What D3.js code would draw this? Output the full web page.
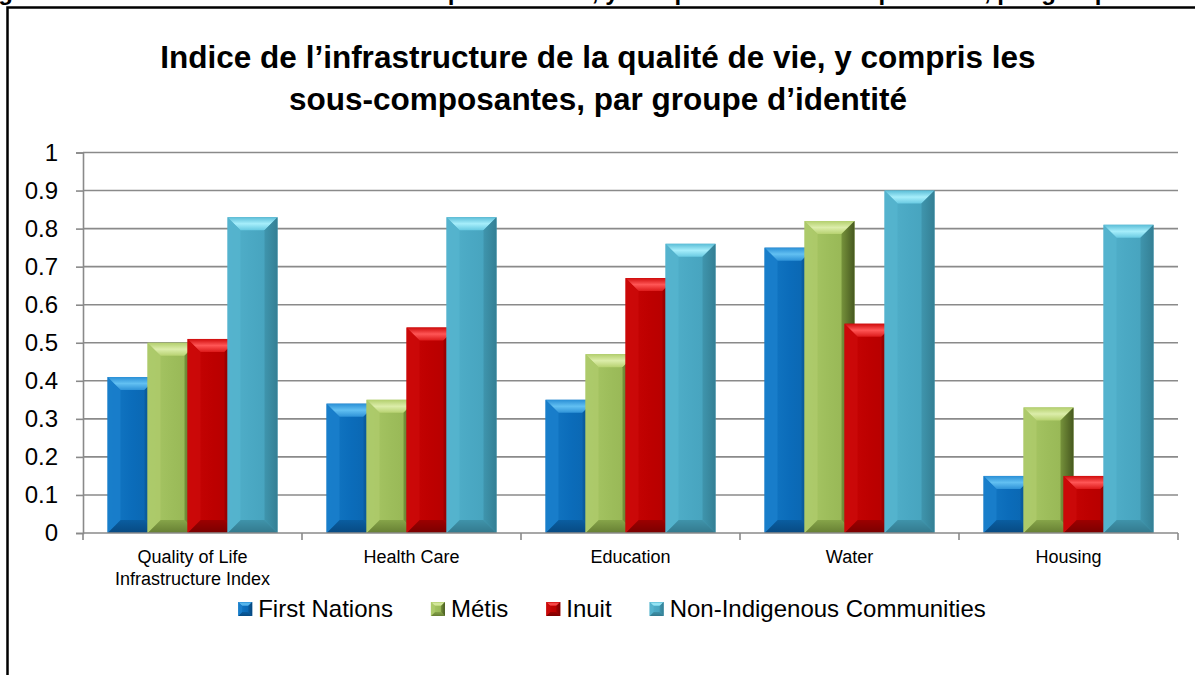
<!DOCTYPE html>
<html>
<head>
<meta charset="utf-8">
<script src="https://cdn.jsdelivr.net/npm/d3@7"></script>
<style>
  html, body { margin: 0; padding: 0; background: #fff; }
  svg { display: block; }
  text { font-family: "Liberation Sans", Arial, sans-serif; fill: #000; }
</style>
</head>
<body>
<svg id="chart" width="1195" height="675"></svg>
<script>
// ---- data ----
const categories = ["Quality of Life|Infrastructure Index", "Health Care", "Education", "Water", "Housing"];
const seriesNames = ["First Nations", "Métis", "Inuit", "Non-Indigenous Communities"];
const firstNations  = [0.41, 0.34, 0.35, 0.75, 0.15];
const metis         = [0.50, 0.35, 0.47, 0.82, 0.33];
const inuit         = [0.51, 0.54, 0.67, 0.55, 0.15];
const nonIndigenous = [0.83, 0.83, 0.76, 0.90, 0.81];
const yTicks = [0, 0.1, 0.2, 0.3, 0.4, 0.5, 0.6, 0.7, 0.8, 0.9, 1];
const titleLines = [
  "Indice de l’infrastructure de la qualité de vie, y compris les",
  "sous-composantes, par groupe d’identité"
];
const captionText = "Figure 3 : Indice de l’infrastructure de la qualité de vie, y compris les sous-composantes, par groupe d’identité";

const seriesValues = [firstNations, metis, inuit, nonIndigenous];

// ---- bevel palettes per series ----
const palettes = [
  { id: "fn",  body: ["#1479c5", "#0b6cba", "#0a64ad"], top: ["#2a8fd6", "#62c0f2", "#2f93d8"], bottom: ["#0a5da0", "#074a82"], left: "#1a80cc", right: ["#0a5fa3", "#06467c"] },
  { id: "me",  body: ["#a9c866", "#9dbd5b", "#95b453"], top: ["#b3cf6d", "#dcedaa", "#b7d271"], bottom: ["#86a449", "#667f33"], left: "#aecb6c", right: ["#76923b", "#46581f"] },
  { id: "in",  body: ["#c80404", "#bd0000", "#b30000"], top: ["#cf0b0b", "#ff5656", "#dc1a1a"], bottom: ["#9c0000", "#7a0000"], left: "#cc0a0a", right: ["#a00000", "#7c0000"] },
  { id: "ni",  body: ["#52b1cb", "#4aa8c3", "#45a1bb"], top: ["#5bbdd7", "#a6eefb", "#69cae2"], bottom: ["#3f93aa", "#33798d"], left: "#55b4ce", right: ["#3f95ad", "#347f94"] }
];

const W = 1195, H = 675;
const svg = d3.select("#chart");
const defs = svg.append("defs");

function linGrad(id, stops, vertical) {
  const g = defs.append("linearGradient").attr("id", id)
    .attr("x1", 0).attr("y1", 0)
    .attr("x2", vertical ? 0 : 1).attr("y2", vertical ? 1 : 0);
  stops.forEach((c, i) => g.append("stop")
    .attr("offset", stops.length === 1 ? 0 : i / (stops.length - 1))
    .attr("stop-color", c));
}
palettes.forEach(p => {
  linGrad(p.id + "-body", p.body, false);
  linGrad(p.id + "-top", p.top, true);
  linGrad(p.id + "-bottom", p.bottom, true);
  linGrad(p.id + "-right", p.right, false);
});

// Draws one bevelled bar (body + four edge facets)
function bevelBar(sel, x, y, w, h, p, bevel) {
  const b = Math.max(0, Math.min(bevel, w / 2, h / 2));
  const g = sel.append("g");
  g.append("rect").attr("x", x).attr("y", y).attr("width", w).attr("height", h)
    .attr("fill", `url(#${p.id}-body)`);
  g.append("path").attr("d", `M${x},${y}H${x + w}L${x + w - b},${y + b}H${x + b}Z`)
    .attr("fill", `url(#${p.id}-top)`);
  g.append("path").attr("d", `M${x},${y + h}H${x + w}L${x + w - b},${y + h - b}H${x + b}Z`)
    .attr("fill", `url(#${p.id}-bottom)`);
  g.append("path").attr("d", `M${x},${y}L${x + b},${y + b}V${y + h - b}L${x},${y + h}Z`)
    .attr("fill", p.left).attr("opacity", 0.8);
  g.append("path").attr("d", `M${x + w},${y}L${x + w - b},${y + b}V${y + h - b}L${x + w},${y + h}Z`)
    .attr("fill", `url(#${p.id}-right)`);
  return g;
}

// ---- caption running above the frame (cropped at the top) ----
svg.append("text")
  .attr("x", -23).attr("y", 0)
  .style("font-weight", "bold").style("font-size", "24px")
  .text(captionText);

// ---- frame ----
svg.append("rect")
  .attr("x", 7.5).attr("y", 7.5).attr("width", W + 40).attr("height", H + 40)
  .attr("fill", "none").attr("stroke", "#000").attr("stroke-width", 2.5);

// ---- title ----
svg.append("text")
  .attr("x", 598).attr("y", 68)
  .attr("text-anchor", "middle")
  .style("font-weight", "bold").style("font-size", "31.5px")
  .selectAll("tspan").data(titleLines).join("tspan")
  .attr("x", 598).attr("dy", (d, i) => i === 0 ? 0 : 42)
  .text(d => d);

// ---- scales ----
const plot = { left: 83, right: 1178, top: 152.5, bottom: 533 };
const x0 = d3.scaleBand().domain(categories).range([plot.left, plot.right]).padding(0);
const barW = 50, barStep = 40;
const x1 = d3.scalePoint().domain(seriesNames).range([0, barStep * (seriesNames.length - 1)]);
const groupOffset = (x0.bandwidth() - (barStep * (seriesNames.length - 1) + barW)) / 2;
const y = d3.scaleLinear().domain([0, 1]).range([plot.bottom, plot.top]);

// ---- gridlines ----
const grid = svg.append("g");
grid.selectAll("line").data(yTicks.filter(t => t > 0)).join("line")
  .attr("x1", plot.left).attr("x2", plot.right)
  .attr("y1", d => y(d)).attr("y2", d => y(d))
  .attr("stroke", "#8a8a8a").attr("stroke-width", 1.6);

// ---- y axis ----
const yAxis = svg.append("g").attr("transform", `translate(${plot.left},0)`)
  .call(d3.axisLeft(y).tickValues(yTicks).tickFormat(d3.format("")).tickSize(7).tickPadding(18));
yAxis.select(".domain").attr("stroke", "#8a8a8a").attr("stroke-width", 1.6);
yAxis.selectAll(".tick line").attr("stroke", "#8a8a8a").attr("stroke-width", 1.6);
yAxis.selectAll(".tick text")
  .style("font-family", "'Liberation Sans', Arial, sans-serif")
  .style("font-size", "24px").attr("fill", "#000");

// ---- bars ----
const barsLayer = svg.append("g");
categories.forEach((cat, ci) => {
  seriesNames.forEach((s, si) => {
    const v = seriesValues[si][ci];
    const bx = x0(cat) + groupOffset + x1(s);
    const by = y(v);
    bevelBar(barsLayer, bx, by, barW, y(0) - by, palettes[si], 13);
  });
});

// ---- x axis ----
const xAxis = svg.append("g").attr("transform", `translate(0,${plot.bottom})`);
xAxis.append("line").attr("x1", plot.left).attr("x2", plot.right)
  .attr("stroke", "#8a8a8a").attr("stroke-width", 1.6);
const boundaries = categories.map(c => x0(c)).concat([plot.right]);
xAxis.selectAll("line.tick").data(boundaries).join("line").attr("class", "tick")
  .attr("x1", d => d).attr("x2", d => d).attr("y1", 0).attr("y2", 7)
  .attr("stroke", "#8a8a8a").attr("stroke-width", 1.6);
xAxis.selectAll("text.cat").data(categories).join("text").attr("class", "cat")
  .attr("text-anchor", "middle").style("font-size", "18px")
  .each(function (d) {
    const t = d3.select(this);
    d.split("|").forEach((line, i) => {
      t.append("tspan").attr("x", x0(d) + x0.bandwidth() / 2).attr("y", 30 + i * 22).text(line);
    });
  });

// ---- legend ----
const legend = svg.append("g");
const legendY = 609, sq = 14, sqGap = 6, itemGap = 38;
const items = legend.selectAll("g").data(seriesNames).join("g");
items.append("text").attr("x", sq + sqGap).attr("y", legendY + 8)
  .style("font-size", "24px").text(d => d);
let cursor = 0;
const widths = [];
items.each(function () {
  const w = sq + sqGap + d3.select(this).select("text").node().getComputedTextLength();
  widths.push(w);
});
const totalW = d3.sum(widths) + itemGap * (widths.length - 1);
cursor = 612 - totalW / 2;
items.each(function (d, i) {
  const g = d3.select(this).attr("transform", `translate(${cursor},0)`);
  bevelBar(g, 0, legendY - sq / 2, sq, sq, palettes[i], 4);
  cursor += widths[i] + itemGap;
});
</script>
</body>
</html>
